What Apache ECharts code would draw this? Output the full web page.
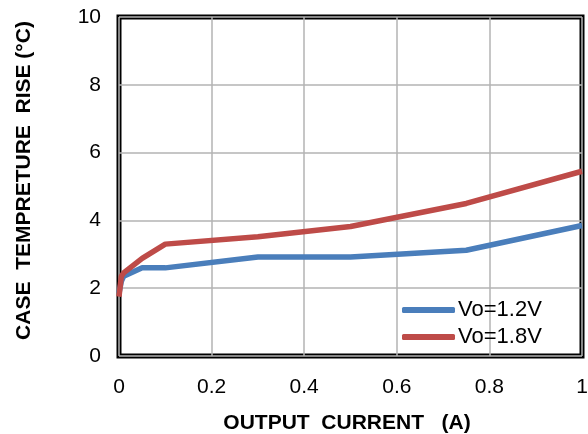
<!DOCTYPE html>
<html>
<head>
<meta charset="utf-8">
<script src="https://cdn.jsdelivr.net/npm/echarts@6/dist/echarts.min.js"></script>
<style>html,body{margin:0;padding:0;background:#fff;}#c{width:588px;height:434px;}</style>
</head>
<body>
<div id="c"></div>
<script>
var xValues = [0, 0.005, 0.01, 0.05, 0.1, 0.3, 0.5, 0.75, 1];
var vo12 = [1.85, 2.2, 2.35, 2.6, 2.6, 2.92, 2.92, 3.12, 3.85];
var vo18 = [1.75, 2.35, 2.45, 2.88, 3.3, 3.52, 3.82, 4.5, 5.45];
var seriesNames = ['Vo=1.2V', 'Vo=1.8V'];
var xTitle = 'OUTPUT  CURRENT   (A)';
var yTitle = 'CASE  TEMPRETURE  RISE (°C)';

function pairs(ys) { return xValues.map(function (x, i) { return [x, ys[i]]; }); }

var chart = echarts.init(document.getElementById('c'));
var font = 'Liberation Sans, Arial, sans-serif';
chart.setOption({
  animation: false,
  textStyle: { fontFamily: font },
  grid: { left: 119, right: 6, top: 17, bottom: 78, show: true, borderColor: '#000', borderWidth: 5, backgroundColor: 'transparent', containLabel: false, outerBoundsMode: 'none' },
  xAxis: {
    type: 'value', min: 0, max: 1, interval: 0.2,
    axisLine: { show: false }, axisTick: { show: false },
    splitLine: { show: true, lineStyle: { color: '#b3b3b3', width: 1.5 } },
    axisLabel: { fontSize: 21, color: '#000', margin: 21, fontFamily: font },
    name: xTitle, nameLocation: 'middle', nameGap: 57,
    nameTextStyle: { fontSize: 21, fontWeight: 'bold', color: '#000', fontFamily: font, padding: [0, 7, 0, 0] }
  },
  yAxis: {
    type: 'value', min: 0, max: 10, interval: 2,
    axisLine: { show: false }, axisTick: { show: false },
    splitLine: { show: true, lineStyle: { color: '#b3b3b3', width: 1.5 } },
    axisLabel: { fontSize: 21, color: '#000', margin: 18, fontFamily: font },
    name: yTitle, nameLocation: 'middle', nameGap: 84, nameRotate: 90,
    nameTextStyle: { fontSize: 21, fontWeight: 'bold', color: '#000', fontFamily: font, padding: [0, 0, 0, 12] }
  },
  legend: {
    orient: 'vertical', left: 397, top: 294,
    icon: 'roundRect',
    itemWidth: 53, itemHeight: 6, itemGap: 5,
    textStyle: { fontSize: 22, color: '#000', fontFamily: font, padding: [0, 0, 0, -2] },
    data: seriesNames
  },
  series: [
    { name: seriesNames[0], type: 'line', data: pairs(vo12), symbol: 'none', lineStyle: { color: '#4a7ebb', width: 5.5 }, itemStyle: { color: '#4a7ebb' } },
    { name: seriesNames[1], type: 'line', data: pairs(vo18), symbol: 'none', lineStyle: { color: '#be4b48', width: 5.5 }, itemStyle: { color: '#be4b48' } }
  ]
});
</script>
</body>
</html>
